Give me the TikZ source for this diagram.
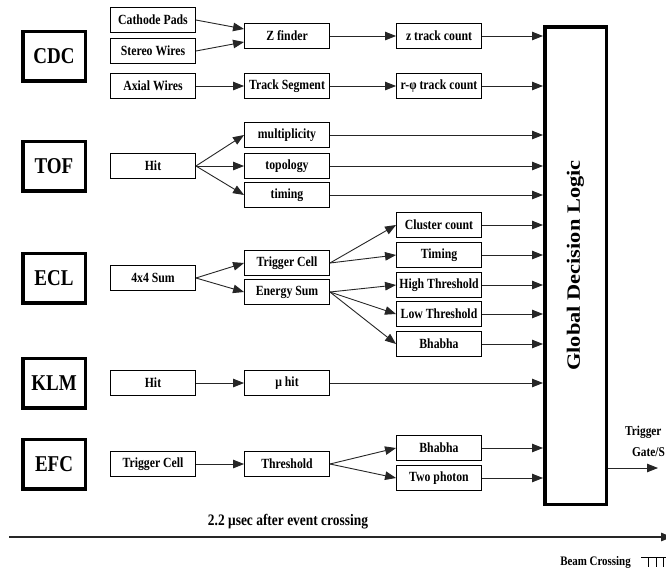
\documentclass[tikz,border=0pt]{standalone}
\usepackage{fontspec}
\usepackage{graphicx}
\setmainfont[FakeStretch=0.84]{Liberation Serif}
\newfontfamily\gdlfont{Liberation Serif}
\usetikzlibrary{arrows.meta}
\tikzset{
  box/.style={draw=black, line width=0.9pt, minimum width=85pt, minimum height=25pt, inner sep=0pt,
    font=\fontsize{14}{16}\selectfont\bfseries},
  det/.style={draw=black, line width=3.5pt, minimum width=62.5pt, minimum height=49.5pt, inner sep=0pt,
    font=\fontsize{22.6}{24}\selectfont\bfseries},
  arr/.style={draw=black!85, line width=0.9pt, -{Triangle[length=11pt,width=8.5pt]}},
  lbl/.style={inner sep=0pt, font=\fontsize{13.5}{16}\selectfont\bfseries},
}
\begin{document}
\begin{tikzpicture}[x=1pt,y=-1pt]
\clip (0,0) rectangle (666,574);
\fill[white] (0,0) rectangle (666,574);

% detector boxes
\node[det] (cdc) at (54,56) {CDC};
\node[det] (tof) at (54,166) {TOF};
\node[det] (ecl) at (54,278) {ECL};
\node[det] (klm) at (54,383) {KLM};
\node[det] (efc) at (54,464) {EFC};

% column 1
\node[box] (cp) at (153,20) {Cathode Pads};
\node[box] (sw) at (153,51) {Stereo Wires};
\node[box] (aw) at (153,86) {Axial Wires};
\node[box] (thit) at (153,166) {Hit};
\node[box] (sum) at (153,278) {4x4 Sum};
\node[box] (khit) at (153,383) {Hit};
\node[box] (etc) at (153,464) {Trigger Cell};

% column 2
\node[box] (zf) at (287,36) {Z finder};
\node[box] (ts) at (287,86) {Track Segment};
\node[box] (mult) at (287,135) {multiplicity};
\node[box] (topo) at (287,166) {topology};
\node[box] (tim) at (287,195) {timing};
\node[box] (tc) at (287,263) {Trigger Cell};
\node[box] (es) at (287,292) {Energy Sum};
\node[box] (mu) at (287,383) {μ hit};
\node[box] (thr) at (287,464) {Threshold};

% column 3
\node[box] (ztc) at (439,36) {z track count};
\node[box] (rtc) at (439,86) {r-φ track count};
\node[box] (cc) at (439,225) {Cluster count};
\node[box] (etim) at (439,255) {Timing};
\node[box] (ht) at (439,285) {High Threshold};
\node[box] (lt) at (439,314) {Low Threshold};
\node[box] (bb) at (439,344) {Bhabha};
\node[box] (ebb) at (439,448) {Bhabha};
\node[box] (tp) at (439,478) {Two photon};

% global decision logic
\node[draw=black, line width=3.5pt, minimum width=61.5pt, minimum height=477.5pt, inner sep=0pt] (gdl) at (575.5,265.5) {};
\node[rotate=90, inner sep=0pt] (gdltxt) at (gdl.center) {\scalebox{1}[0.84]{\gdlfont\fontsize{22.4}{24}\selectfont\bfseries Global Decision Logic}};

% CDC connectors
\draw[arr] (cp.east) -- ([yshift=7pt]zf.west);
\draw[arr] (sw.east) -- ([yshift=-6pt]zf.west);
\draw[arr] (aw) -- (ts);
\draw[arr] (zf) -- (ztc);
\draw[arr] (ts) -- (rtc);

% TOF
\draw[arr] (thit.east) -- (mult.west);
\draw[arr] (thit.east) -- (topo.west);
\draw[arr] (thit.east) -- (tim.west);

% ECL
\draw[arr] (sum.east) -- (tc.west);
\draw[arr] (sum.east) -- (es.west);
\draw[arr] (tc.east) -- (cc.west);
\draw[arr] (tc.east) -- (etim.west);
\draw[arr] (es.east) -- (ht.west);
\draw[arr] (es.east) -- (lt.west);
\draw[arr] (es.east) -- (bb.west);

% KLM
\draw[arr] (khit) -- (mu);

% EFC
\draw[arr] (etc) -- (thr);
\draw[arr] (thr.east) -- (ebb.west);
\draw[arr] (thr.east) -- (tp.west);

% into GDL
\foreach \n in {ztc,rtc,mult,topo,tim,cc,etim,ht,lt,bb,mu,ebb,tp}
  \draw[arr] (\n.east) -- (\n.east -| gdl.west);

% output
\coordinate (out) at (658,468);
\draw[arr] (gdl.east |- out) -- (out);
\node[lbl, anchor=west] (trig) at (625,432) {Trigger};
\node[lbl, anchor=east] (gate) at (665,452) {Gate/S};

% timeline
\node[inner sep=0pt, font=\fontsize{16}{18}\selectfont\bfseries] (tltxt) at (288,522) {2.2 μsec after event crossing};
\coordinate (tl0) at (9,537);
\coordinate (tl1) at (672,537);
\draw[arr, line width=1.2pt] (tl0) -- (tl1);

% beam crossing
\node[inner sep=0pt, font=\fontsize{13}{15}\selectfont\bfseries] (bc) at (595.5,562) {Beam Crossing};
\draw[black, line width=0.8pt] (641,557) -- (667,557);
\foreach \x in {648,656,663}
  \draw[black, line width=0.8pt] (\x,557) -- (\x,567);
\end{tikzpicture}
\end{document}
